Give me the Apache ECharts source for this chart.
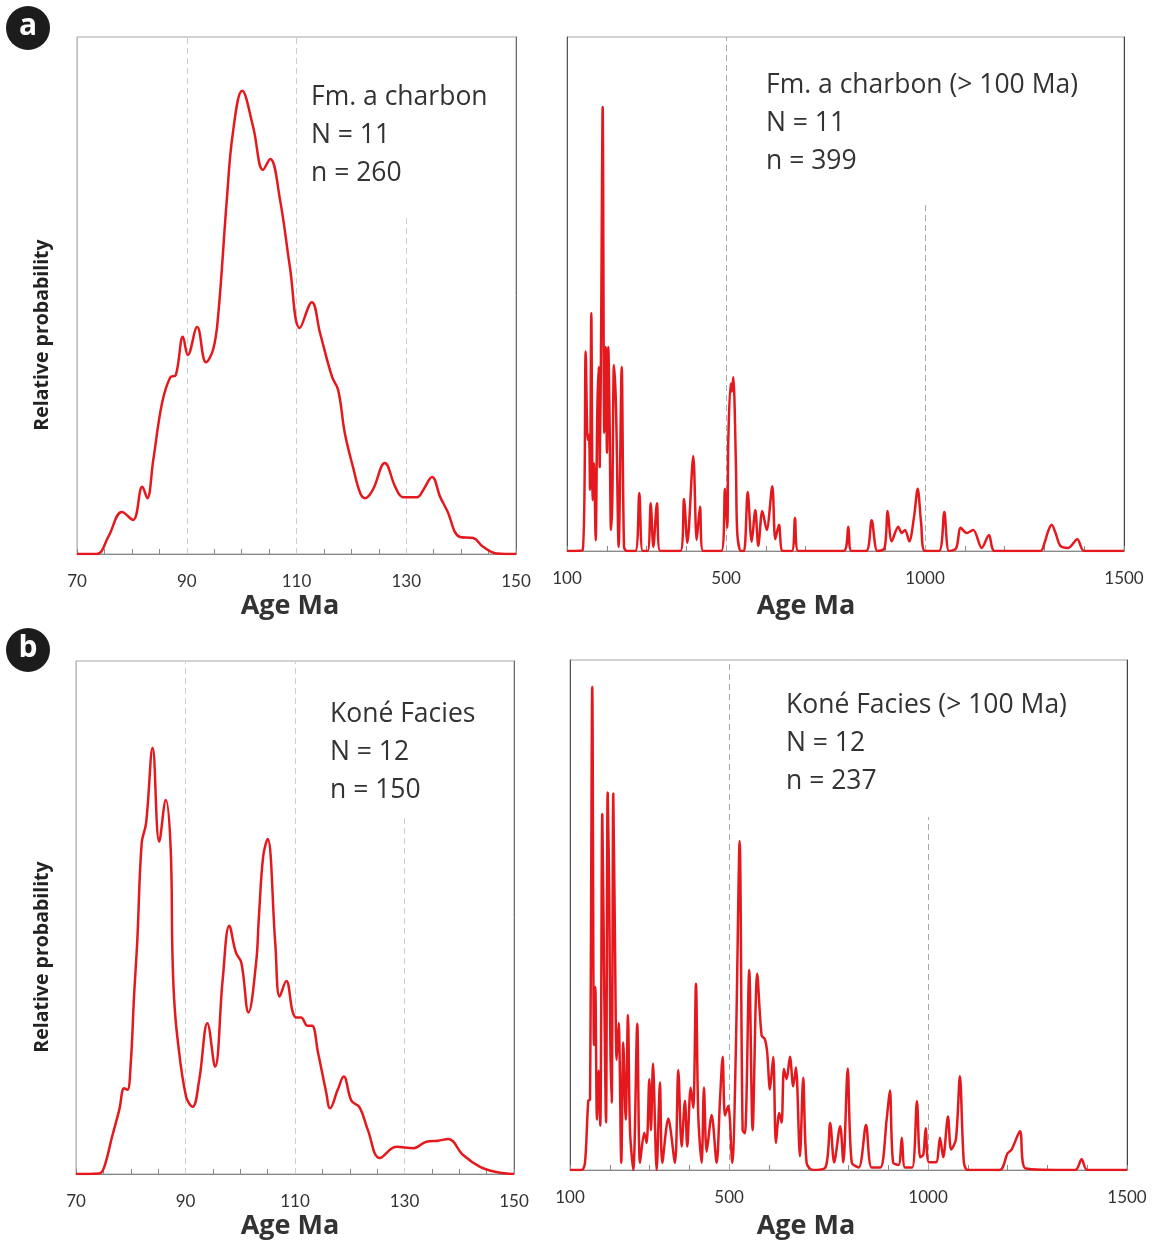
<!DOCTYPE html>
<html>
<head>
<meta charset="utf-8">
<title>Age spectra - Fm. a charbon / Koné Facies</title>
<script src="https://cdn.jsdelivr.net/npm/echarts@6/dist/echarts.min.js"></script>
<style>
  html, body { margin: 0; padding: 0; background: #fff; }
  #chart { width: 1156px; height: 1245px; }
</style>
</head>
<body>
<div id="chart"></div>
<script>
// tick labels shown on the age axes
var youngTicks = [70, 90, 110, 130, 150];
var oldTicks = [100, 500, 1000, 1500];

// [age Ma, relative probability (0-100 of panel height)]
var fmYoung = [[70,0],[73.6,0],[75.7,3.3],[78.2,8.1],[80.2,6.6],[81.9,13.0],[82.8,10.8],[83.9,18.2],
  [85.5,29.2],[87.0,34.2],[88.0,34.6],[89.3,42.0],[90.2,38.5],[91.9,43.9],[93.5,37.1],[94.8,39.5],
  [95.7,45.8],[97.3,68.5],[98.4,81.4],[100.1,89.6],[102.1,82.6],[103.9,74.3],[105.2,76.4],[107.0,68.5],
  [108.8,55.5],[110.6,43.7],[112.8,48.7],[114.3,42.7],[116.5,34.2],[117.6,31.7],[118.8,23.4],[120.3,16.8],
  [121.6,11.8],[122.5,10.8],[123.9,12.4],[126.1,17.6],[128.0,13.0],[129.4,11.0],[132.0,11.0],[133.1,12.4],
  [134.7,14.9],[136.2,11.0],[137.4,8.5],[139.8,3.3],[142.2,3.1],[144.0,1.4],[146.5,0.1],[150,0]];

var fmOld = [[100,0],[139,0.1],[147.0,38.8],[152.0,21.6],[155.3,22.6],[157.8,11.9],[161.1,46.3],[164.6,9.9],
  [167.9,17.1],[172.1,2.1],[176.2,27.4],[179.7,35.8],[182.2,16.3],[185.5,39.7],[189.7,86.4],[193.7,23.0],
  [197.3,39.7],[200.5,19.1],[203.8,39.7],[207.3,24.1],[210.6,4.1],[213.9,9.9],[218.1,36.2],[223.2,28.0],
  [229.9,0.8],[237.5,35.8],[243.3,0.8],[250,0],[272,0],[281.7,11.3],[290,0],[303,0],[310.4,9.3],[317,0.8],
  [326.2,9.3],[334,0],[385,0],[394.1,10.1],[402.4,1.6],[417.4,18.5],[426.0,2.1],[434.3,8.6],[442,0],
  [488,0],[497.1,12.1],[502.9,4.5],[505.4,21.6],[511.4,32.6],[514.5,31.0],[518.0,33.8],[524.7,16.4],
  [528.0,3.5],[537,0],[545,0],[554.2,11.5],[564.2,1.8],[573.3,8.0],[580.8,1.0],[590.9,7.8],[601.9,4.1],
  [616.0,12.6],[623.5,2.3],[632.8,5.1],[642,0],[665,0],[673.0,6.4],[681,0],[795,0],[807.0,4.7],[815,0],
  [852,0],[865.8,6.0],[880,0],[898,0.5],[906.0,7.8],[916.1,1.9],[932.7,4.7],[941.2,3.5],[949.5,4.1],[960.3,1.9],
  [972,6.5],[981.5,12.1],[990,5.5],[999.8,0],[1035,0],[1048.3,7.6],[1060,0],[1078,0.5],[1089.5,4.5],
  [1104.6,3.5],[1121.2,4.1],[1142.3,0.6],[1160.7,3.1],[1175,0],[1290,0],[1300,1.5],[1310,4.0],[1318.3,5.1],
  [1328,3.5],[1340,1.0],[1360.0,0.6],[1382.6,2.3],[1400,0],[1500,0]];

var koneYoung = [[70,0],[74.2,0.1],[75.1,1.2],[76.6,7.3],[77.9,12.5],[78.8,16.7],[79.4,16.4],[80.0,21.6],
  [80.6,34.6],[81.2,45.6],[82.0,64.5],[82.8,68.4],[84.0,83.1],[85.2,64.8],[86.4,72.9],[87.3,63.2],
  [87.6,43.7],[87.9,34.6],[88.5,26.8],[90.1,15.1],[91.3,13.1],[92.5,18.3],[94.0,29.4],[95.4,20.9],
  [96.8,38.0],[98.0,48.4],[99.2,43.2],[100.2,41.2],[101.5,31.5],[102.9,41.2],[103.4,50.0],[104.2,62.0],
  [105.0,65.3],[106.4,44.9],[107.2,34.6],[108.4,37.6],[109.6,31.5],[110.3,30.5],[111.1,30.5],[112.3,28.9],
  [113.1,28.9],[114.2,23.7],[115.7,15.9],[116.4,12.8],[117.8,16.4],[118.9,19.0],[120.3,14.3],[121.8,13.0],
  [123.3,8.6],[125.5,3.1],[128.5,5.3],[131.6,5.0],[134.0,6.3],[136.1,6.5],[138.0,6.8],[140.7,3.7],
  [143.8,1.4],[146.8,0.4],[150,0]];

var koneOld = [[100,0],[129.4,0],[137.7,1.4],[146.0,13.6],[150.3,13.8],[156.0,94.7],[160.3,24.5],[163.6,35.9],
  [167.8,9.9],[172.1,19.5],[176.1,8.7],[181.2,69.8],[186.2,34.1],[190.5,9.3],[194.7,74.0],[198.7,53.5],
  [201.3,25.5],[204.8,13.2],[208.8,73.8],[213.1,44.2],[217.3,21.6],[222.4,28.8],[228.9,1.4],[233.9,25.0],
  [240.0,9.9],[245.7,30.4],[250.8,7.8],[259.1,0],[269.1,28.7],[275.9,1.4],[286.7,7.3],[292.7,5.3],
  [299.3,17.8],[303.5,7.8],[308.6,20.9],[317.8,0],[326.1,17.2],[331.9,1.4],[347.0,10.1],[363.8,1.4],
  [372.1,19.6],[380.6,4.6],[388.9,13.6],[394.7,4.6],[403.3,16.2],[409.8,12.2],[416.6,36.5],[422.4,10.7],
  [430.9,1.4],[436.7,16.2],[443.5,3.6],[456.0,10.8],[468.6,1.4],[476.9,13.6],[483.7,22.2],[489.5,10.7],
  [497.8,12.6],[507.8,1.4],[517.1,24.5],[526.4,64.5],[533.9,7.8],[539.7,7.2],[550.5,39.2],[559.0,7.8],
  [570.6,38.5],[581.6,26.4],[589.9,25.6],[595.7,23.0],[602.5,15.8],[610.8,22.2],[617.6,5.3],[625.9,11.2],
  [631.9,9.3],[637.7,19.8],[644.5,17.8],[652.8,22.2],[661.1,16.4],[667.9,20.1],[677.9,2.7],[686.2,18.1],
  [694.7,1.4],[710,0],[742,0.5],[754,9.2],[764,1.5],[779,8.6],[787,1.5],[798,19.9],[808,1.5],[826,0.5],
  [844,8.8],[858,0.5],[880,0.5],[896,10],[904,15.6],[912,1.5],[926,1],[934,6.3],[942,0.5],[960,0.5],
  [972,13.5],[980,2.5],[988,3],[994,8.2],[1002,1.5],[1020,1.5],[1030,6.3],[1038,2.5],[1050,10.5],
  [1058,4],[1070,6],[1080,18.4],[1090,1.5],[1100,0],[1180,0],[1200,3.3],[1210,4.0],[1231,7.6],
  [1245,0.3],[1370,0],[1386,2.1],[1400,0],[1500,0]];

var panels = [
  { box: { left: 77, top: 37, width: 439, height: 517 }, data: fmYoung, young: true, cut: 65,
    title: ['Fm. a charbon', 'N = 11', 'n = 260'], tx: 311, ty: 78 },
  { box: { left: 567, top: 37, width: 557, height: 514 }, data: fmOld, young: false, cut: 67.3,
    title: ['Fm. a charbon (> 100 Ma)', 'N = 11', 'n = 399'], tx: 766, ty: 66 },
  { box: { left: 76, top: 661, width: 438, height: 513 }, data: koneYoung, young: true, cut: 69.4,
    title: ['Koné Facies', 'N = 12', 'n = 150'], tx: 330, ty: 695 },
  { box: { left: 570, top: 660, width: 557, height: 510 }, data: koneOld, young: false, cut: 69.2,
    title: ['Koné Facies (> 100 Ma)', 'N = 12', 'n = 237'], tx: 786, ty: 686 }
];

var red = '#e5191d';
var textColor = '#333';

var grids = [], xAxes = [], yAxes = [], series = [], graphics = [];

panels.forEach(function (p, i) {
  var ticks = p.young ? youngTicks : oldTicks;
  var full = p.young ? [90, 110] : [500];
  var part = p.young ? 130 : 1000;

  grids.push({
    left: p.box.left, top: p.box.top, width: p.box.width, height: p.box.height,
    show: true, borderColor: '#a5a5a5', borderWidth: 1
  });

  xAxes.push({
    type: 'value', gridIndex: i,
    min: p.young ? 70 : 100, max: p.young ? 150 : 1500, interval: p.young ? 5 : 100,
    axisLine: { onZero: false, lineStyle: { color: '#8a8a8a', width: 1.2 } },
    axisTick: { inside: true, length: 5, lineStyle: { color: '#8a8a8a' } },
    splitLine: { show: false },
    axisLabel: {
      interval: 0, margin: 19, fontSize: 17, color: textColor, fontFamily: 'Lato',
      showMinLabel: true, showMaxLabel: true,
      formatter: function (v) { return ticks.indexOf(v) >= 0 ? String(v) : ''; }
    }
  });

  // left edge and right edge of each frame
  yAxes.push({
    type: 'value', gridIndex: i, min: 0, max: 100,
    axisLine: { show: true, lineStyle: { color: p.young ? '#bdbdbd' : '#555' } },
    axisTick: { show: false }, axisLabel: { show: false }, splitLine: { show: false }
  });
  yAxes.push({
    type: 'value', gridIndex: i, min: 0, max: 100, position: 'right',
    axisLine: { show: true, lineStyle: { color: p.young ? '#6a6a6a' : '#444' } },
    axisTick: { show: false }, axisLabel: { show: false }, splitLine: { show: false }
  });

  var lines = full.map(function (a) {
    return [{ coord: [a, 0] }, { coord: [a, 100] }];
  });
  lines.push([{ coord: [part, 0] }, { coord: [part, p.cut] }]);

  series.push({
    type: 'line', xAxisIndex: i, yAxisIndex: i * 2,
    data: p.data, showSymbol: false, symbol: 'none',
    smooth: p.young ? 0.4 : 0.3,
    lineStyle: { color: red, width: 2.5 },
    z: 3, silent: true, animation: false,
    markLine: {
      silent: true, z: 1, symbol: ['none', 'none'], label: { show: false },
      lineStyle: { type: [6, 4], color: p.young ? '#cfcfcf' : '#a8a8a8', width: 1 },
      emphasis: { disabled: true },
      data: lines
    }
  });

  graphics.push({
    type: 'text', x: p.tx, y: p.ty,
    style: {
      text: p.title.join('\n'), font: '26.5px "Open Sans"', fill: textColor,
      lineHeight: 38, verticalAlign: 'top', align: 'left'
    }
  });
});

// axis titles and panel badges
[[290, 606], [806, 606], [290, 1226], [806, 1226]].forEach(function (c) {
  graphics.push({
    type: 'text', x: c[0], y: c[1],
    style: { text: 'Age Ma', font: 'bold 27px "Open Sans"', fill: textColor, align: 'center', verticalAlign: 'middle' }
  });
});
[[42, 335], [42, 957]].forEach(function (c) {
  graphics.push({
    type: 'text', x: c[0], y: c[1], rotation: Math.PI / 2,
    style: { text: 'Relative probability', font: 'bold 19.5px "Open Sans"', fill: '#222', align: 'center', verticalAlign: 'middle' }
  });
});
[['a', 28, 28], ['b', 28, 650]].forEach(function (b) {
  graphics.push({ type: 'circle', shape: { cx: b[1], cy: b[2], r: 22 }, style: { fill: '#1c1c1c' } });
  graphics.push({
    type: 'text', x: b[1], y: b[2] - 2,
    style: { text: b[0], font: 'bold 30px "Open Sans"', fill: '#fff', align: 'center', verticalAlign: 'middle' }
  });
});

var chart = echarts.init(document.getElementById('chart'), null, { renderer: 'canvas' });
chart.setOption({
  backgroundColor: '#fff',
  animation: false,
  grid: grids,
  xAxis: xAxes,
  yAxis: yAxes,
  series: series,
  graphic: graphics
});

window.addEventListener('resize', function () { chart.resize(); });
</script>
</body>
</html>
